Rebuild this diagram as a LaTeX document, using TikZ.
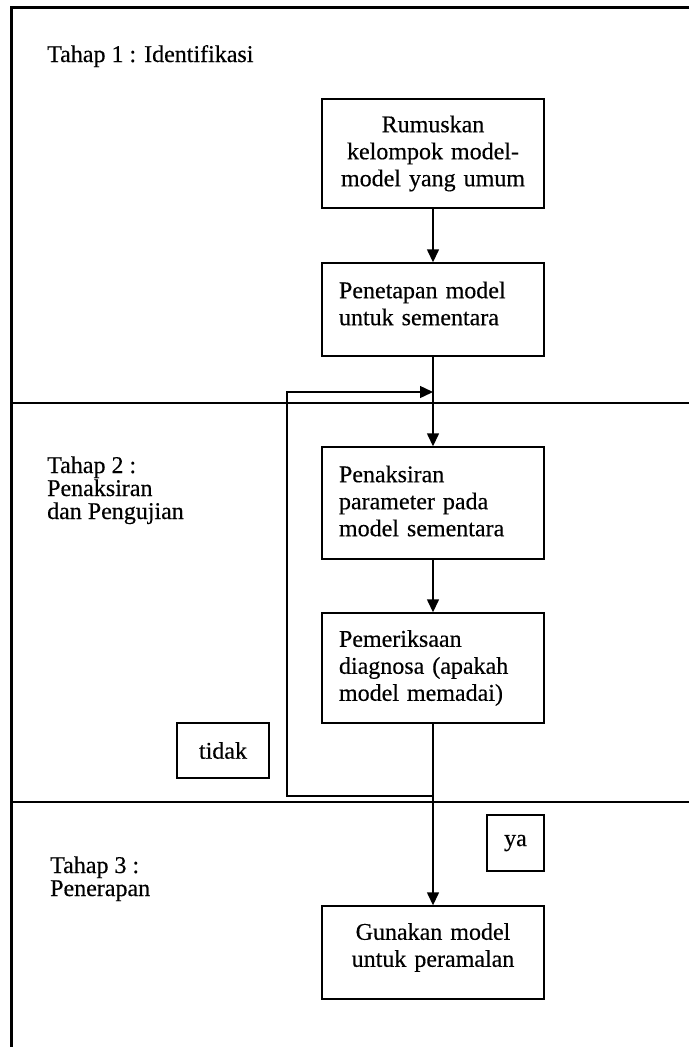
\documentclass[tikz,border=0pt]{standalone}
\usepackage{fontspec}
\setmainfont[FakeBold=0.4]{Liberation Serif}
\usetikzlibrary{arrows.meta}
\begin{document}
\begin{tikzpicture}[x=1pt,y=-1pt,
  every node/.style={font=\fontsize{24}{27}\selectfont, inner sep=0pt},
  stagelabel/.style={anchor=base west, align=left, font=\fontsize{24}{23}\selectfont},
  procbox/.style={draw, line width=1.4pt, minimum width=222pt},
  leftbox/.style={procbox, text width=188pt, align=left, inner xsep=17pt},
  midbox/.style={procbox, text width=204pt, align=center, inner xsep=9pt},
  tagbox/.style={draw, line width=1.4pt, align=center},
  flow/.style={line width=1.4pt, -{Triangle[length=13pt,width=12pt]}},
  rule/.style={line width=1.4pt},
  frame/.style={line width=3pt}
]
\useasboundingbox (0,0) rectangle (689,1047);

% outer frame (top and left) and stage dividers
\draw[frame] (689,7.5) -- (11.5,7.5) -- (11.5,1047);
\draw[rule] (11.5,403) -- (689,403);
\draw[rule] (11.5,802) -- (689,802);

% stage labels (anchored at the baseline of their last line)
\node[stagelabel] (s1) at (47,62) {Tahap 1 : Identifikasi};
\node[stagelabel] (s2) at (47,519) {Tahap 2 :\\Penaksiran\\dan Pengujian};
\node[stagelabel] (s3) at (50,896) {Tahap 3 :\\Penerapan};

% process boxes
\node[midbox, minimum height=109pt] (b1) at (433,153.5)
  {Rumuskan\\kelompok model-\\model yang umum};
\node[leftbox, minimum height=93pt] (b2) at (433,309.5)
  {Penetapan model\\untuk sementara\par\kern12pt};
\node[leftbox, minimum height=112pt] (b3) at (433,503)
  {Penaksiran\\parameter pada\\model sementara\par\kern4pt};
\node[leftbox, minimum height=110pt] (b4) at (433,668)
  {Pemeriksaan\\diagnosa (apakah\\model memadai)};
\node[midbox, minimum height=93pt] (b5) at (433,952.5)
  {Gunakan model\\untuk peramalan\par\kern10pt};

% decision tags
\node[tagbox, minimum width=92pt, minimum height=55pt] (no) at (223,750.5) {tidak};
\node[tagbox, minimum width=57pt, minimum height=56pt] (yes) at (515.5,843) {ya};

% main flow
\draw[flow] (b1) -- (b2);
\draw[flow] (b2) -- (b3);
\draw[flow] (b3) -- (b4);
\draw[flow] (b4) -- (b5);

% feedback loop back to parameter estimation
\coordinate (fbA) at (433,796);
\coordinate (fbB) at (287,796);
\coordinate (fbC) at (287,392);
\coordinate (fbD) at (433,392);
\draw[flow] (fbA) -- (fbB) -- (fbC) -- (fbD);
\end{tikzpicture}
\end{document}
